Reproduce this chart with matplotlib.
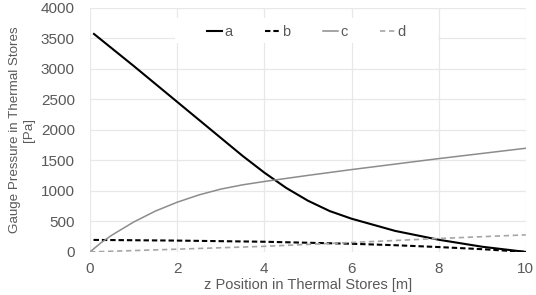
import matplotlib
matplotlib.use("Agg")
import matplotlib.pyplot as plt
from matplotlib.patches import Rectangle

# values (z in m, gauge pressure in Pa)
z_a = [0.09, 1.0, 2.0, 3.0, 3.5, 4.0, 4.5, 5.0, 5.5, 6.0, 7.0, 8.0, 9.0, 10.0]
p_a = [3574, 3050, 2460, 1870, 1575, 1300, 1050, 840, 670, 545, 345, 200, 85, 0]

z_b = [0.08, 2.0, 4.0, 6.0, 7.0, 8.0, 9.0, 10.0]
p_b = [197, 186, 167, 134, 110, 80, 45, 0]

z_c = [0.0, 0.25, 0.5, 1.0, 1.5, 2.0, 2.5, 3.0, 3.5, 4.0, 5.0, 6.0, 7.0,
       8.0, 9.0, 10.0]
p_c = [0, 150, 275, 490, 670, 815, 935, 1030, 1100, 1155, 1255, 1350, 1440,
       1530, 1615, 1700]

z_d = [0.0, 2.0, 4.0, 6.0, 8.0, 10.0]
p_d = [0, 45, 92, 155, 220, 280]

grey = "#595959"
plt.rcParams["font.family"] = ["Liberation Sans", "DejaVu Sans"]

fig = plt.figure(figsize=(5.36, 2.95), dpi=100)
ax = fig.add_axes([0.168, 0.146, 0.813, 0.827])

ax.plot(z_a, p_a, color="black", lw=1.5, label="a", zorder=3,
        solid_joinstyle="round")
ax.plot(z_b, p_b, color="black", lw=1.5, ls=(0, (2.6, 1.4)), label="b", zorder=3)
ax.plot(z_c, p_c, color="#8c8c8c", lw=1.1, label="c", zorder=3,
        solid_joinstyle="round")
ax.plot(z_d, p_d, color="#a6a6a6", lw=1.2, ls=(0, (3.2, 2.2)), label="d", zorder=3)

ax.set_xlim(0, 10)
ax.set_ylim(0, 4000)
ax.set_xticks(range(0, 11, 2))
ax.set_yticks(range(0, 4001, 500))
ax.grid(True, color="#e8e8e8", lw=0.9)
ax.set_axisbelow(True)
for s in ax.spines.values():
    s.set_visible(False)
ax.tick_params(length=0, colors=grey, labelsize=11)
ax.tick_params(axis="y", pad=11)
ax.tick_params(axis="x", pad=7)

ax.set_xlabel("z Position in Thermal Stores [m]", color=grey, fontsize=10.5,
              labelpad=2)
ax.set_ylabel("Gauge Pressure in Thermal Stores\n[Pa]", color=grey,
              fontsize=9.6, labelpad=4, linespacing=1.3)

# white legend box spanning the grid, as in the original
ax.add_patch(Rectangle((0.195, 0.857), 0.603, 0.102, transform=ax.transAxes,
                       facecolor="white", edgecolor="none", zorder=2))
leg = ax.legend(ncol=4, loc="center", bbox_to_anchor=(0.496, 0.9),
                frameon=False, handlelength=1.05, handletextpad=0.15,
                columnspacing=2.2, fontsize=10.5)
for t in leg.get_texts():
    t.set_color(grey)

fig.savefig("out.png", dpi=100)
